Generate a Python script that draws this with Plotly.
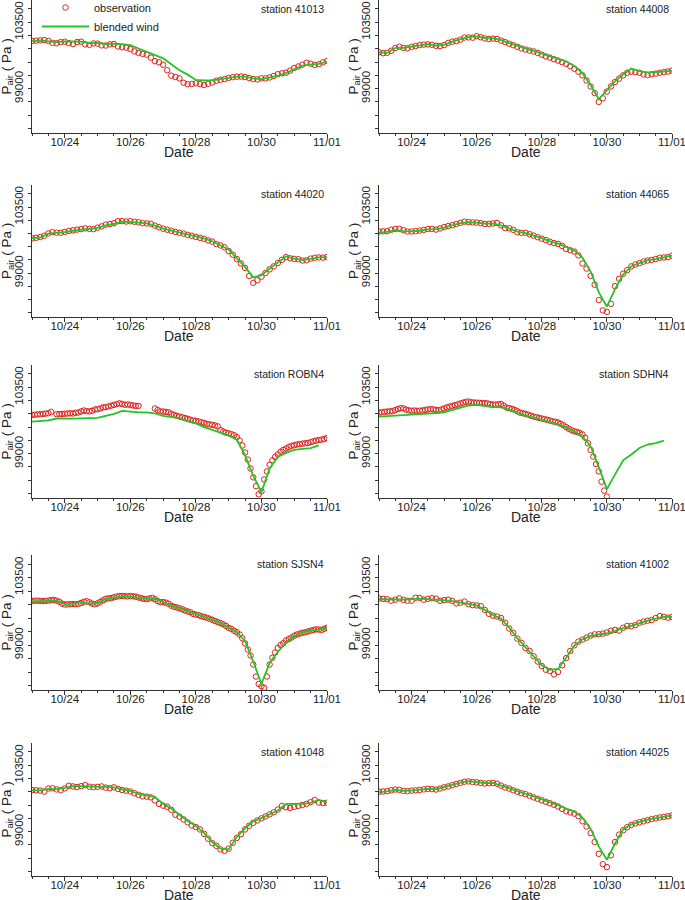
import pandas as pd
import plotly.graph_objects as go

# ---------------- data ----------------
stations = ["41013", "44008", "44020", "44065", "ROBN4",
            "SDHN4", "SJSN4", "41002", "41048", "44025"]

t3h = pd.date_range("2012-10-23 00:00", "2012-11-01 00:00", freq="3h")   # 73
t2h = pd.date_range("2012-10-23 00:00", "2012-11-01 00:00", freq="2h")   # 109
t6h = pd.date_range("2012-10-23 00:00", "2012-11-01 00:00", freq="6h")   # 37

x_tick_vals = ["2012-10-24", "2012-10-26", "2012-10-28", "2012-10-30", "2012-11-01"]
x_tick_text = ["10/24", "10/26", "10/28", "10/30", "11/01"]
y_tick_vals = [99000, 103500]
y_tick_text = ["99000", "103500"]
y_minor_vals = [96300, 97200, 98100, 99900, 100800, 101700, 102600, 104400]

obs_41013 = [102225, 102250, 102270, 102290, 102230, 102100, 102080, 102150, 102180, 102080,
             102020, 102150, 102180, 102000, 101960, 102060, 102050, 101930, 101920, 102000,
             102020, 101850, 101800, 101775, 101680, 101520, 101420, 101350, 101300, 101100,
             100860, 100780, 100620, 100250, 99880, 99790, 99700, 99400, 99300, 99320,
             99360, 99300, 99250, 99330, 99420, 99540, 99600, 99650, 99730, 99780,
             99810, 99820, 99790, 99720, 99650, 99630, 99700, 99700, 99760, 99860,
             99980, 100040, 100080, 100220, 100400, 100500, 100620, 100750, 100690, 100610,
             100650, 100780, 100870]
mod_41013 = [102220, 102260, 102200, 102150, 102200, 102180, 102180, 102080, 102100, 102020,
             102050, 102020, 101950, 101720, 101500, 101300, 101050, 100650, 100250, 99950,
             99590, 99560, 99560, 99640, 99750, 99810, 99810, 99700, 99650, 99740,
             99860, 100050, 100280, 100560, 100620, 100680, 100820]

obs_44008 = [101460, 101400, 101430, 101560, 101750, 101840, 101760, 101730, 101820, 101880,
             101950, 101980, 102000, 101970, 101900, 101880, 101950, 102100, 102180, 102220,
             102320, 102460, 102470, 102450, 102550, 102480, 102400, 102360, 102390, 102360,
             102250, 102150, 102040, 101940, 101830, 101720, 101650, 101580, 101520, 101420,
             101300, 101180, 101100, 100990, 100900, 100790, 100680, 100520, 100350, 100150,
             99900, 99550, 99150, 98700, 98100, 98350, 98800, 99150, 99450, 99680,
             99900, 100080, 100150, 100120, 100080, 99960, 99920, 99980, 100020, 100080,
             100120, 100160, 100220]
mod_44008 = [101460, 101420, 101760, 101770, 101850, 101960, 102020, 101920, 101960, 102180,
             102330, 102500, 102540, 102430, 102420, 102280, 102080, 101880, 101720, 101560,
             101380, 101200, 101000, 100840, 100530, 100050, 99250, 98280, 98900, 99500,
             99960, 100370, 100180, 100100, 100120, 100170, 100200]

obs_44020 = [101360, 101400, 101450, 101540, 101700, 101790, 101750, 101740, 101800, 101870,
             101910, 101960, 101990, 102040, 102010, 101990, 102090, 102180, 102300, 102340,
             102390, 102530, 102540, 102510, 102530, 102490, 102460, 102400, 102380, 102360,
             102230, 102120, 102020, 101950, 101880, 101800, 101740, 101690, 101600, 101540,
             101460, 101400, 101330, 101220, 101140, 100970, 100880, 100750, 100500, 100250,
             99950, 99650, 99350, 98800, 98330, 98500, 98750, 99000, 99250, 99450,
             99680, 99900, 100080, 100000, 99960, 99940, 99850, 99870, 99980, 100040,
             100060, 100050, 100080]
mod_44020 = [101380, 101420, 101680, 101720, 101790, 101880, 101960, 102000, 102070, 102250,
             102340, 102500, 102490, 102440, 102380, 102230, 102020, 101880, 101780, 101620,
             101480, 101360, 101160, 100900, 100600, 100000, 99420, 98700, 98850, 99300,
             99700, 100130, 99980, 99900, 99970, 100060, 100080]

obs_44065 = [101830, 101840, 101850, 101950, 102000, 102010, 101920, 101830, 101830, 101850,
             101890, 101940, 102000, 102010, 101960, 102040, 102130, 102200, 102260, 102340,
             102420, 102500, 102470, 102450, 102440, 102400, 102340, 102350, 102380, 102410,
             102250, 102060, 102050, 101940, 101780, 101740, 101740, 101650, 101550, 101440,
             101340, 101240, 101130, 101040, 100980, 100850, 100640, 100550, 100460, 100200,
             99650, 99300, 98800, 98200, 97150, 96450, 96350, 96900, 98100, 98600,
             98950, 99200, 99450, 99580, 99670, 99780, 99850, 99890, 99950, 100040,
             100060, 100080, 100180]
mod_44065 = [101740, 101800, 101920, 101850, 101840, 101880, 101980, 101990, 102100, 102260,
             102400, 102460, 102440, 102360, 102370, 102250, 102060, 101820, 101720, 101560,
             101380, 101160, 101000, 100780, 100540, 100050, 99100, 97700, 96700, 97900,
             98900, 99460, 99680, 99880, 99950, 100080, 100180]

obs_ROBN4 = [101625, 101640, 101660, 101670, 101690, 101710, 101740, 101830, None, 101670, 101680, 101690,
             101700, 101720, 101730, 101720, 101760, 101790, 101860, 101920, 101880, 101860, 101900, 101990,
             102010, 102060, 102130, 102150, 102200, 102250, 102300, 102350, 102410, 102360, 102310, 102330,
             102300, 102260, 102230, 102230, None, None, None, None, None, 102060, 101950, 101860,
             101850, 101830, 101800, 101690, 101620, 101560, 101510, 101460, 101410, 101360, 101300, 101250,
             101220, 101180, 101130, 101080, 101020, 100980, 100950, 100910, 100850, 100600, 100500, 100420,
             100380, 100320, 100250, 100120, 99900, 99550, 99080, 98600, 98000, 97400, 96800, 96250,
             96450, 97250, 97800, 98250, 98550, 98780, 98950, 99130, 99250, 99350, 99450, 99530,
             99570, 99620, 99650, 99680, 99700, 99720, 99780, 99830, 99880, 99920, 99950, 99990,
             100050]
mod_ROBN4 = [101175, 101200, 101250, 101380, 101360, 101370, 101390, 101400, 101420, 101560,
             101700, 101900, 101830, 101800, 101790, 101720, 101560, 101500, 101400, 101200,
             101050, 100800, 100600, 100450, 100240, 99950, 98900, 97500, 96400, 98000,
             98800, 99050, 99250, 99320, 99380, 99560]

obs_SDHN4 = [101780, 101800, 101830, 101850, 101860, 101880, 101950, 102020, 102080, 102060, 101980, 101930,
             101900, 101920, 101900, 101910, 101920, 101960, 101990, 102010, 102000, 101960, 101940, 101990,
             102060, 102130, 102180, 102230, 102280, 102330, 102400, 102450, 102510, 102520, 102480, 102460,
             102450, 102440, 102430, 102420, 102400, 102350, 102330, 102310, 102340, 102360, 102250, 102120,
             102080, 102030, 101960, 101880, 101780, 101740, 101690, 101640, 101570, 101510, 101470, 101420,
             101380, 101340, 101290, 101240, 101190, 101150, 101110, 101020, 100920, 100800, 100680, 100580,
             100510, 100470, 100400, 100300, 100080, 99700, 99250, 98800, 98300, 97800, 97100, 96500,
             96100]
mod_SDHN4 = [101510, 101540, 101560, 101600, 101640, 101670, 101700, 101740, 101800, 101950,
             102120, 102260, 102300, 102200, 102150, 102130, 101980, 101750, 101580, 101440,
             101280, 101150, 101000, 100760, 100500, 100150, 99500, 98100, 96600, 97600,
             98550, 98950, 99380, 99620, 99710, 99880]

obs_SJSN4 = [101930, 101950, 101960, 101940, 101930, 101940, 101960, 101990, 102000, 101960, 101880, 101760,
             101700, 101710, 101720, 101730, 101720, 101740, 101800, 101880, 101920, 101850, 101760, 101710,
             101780, 101880, 101980, 102080, 102110, 102130, 102180, 102230, 102260, 102270, 102250, 102240,
             102260, 102250, 102220, 102170, 102120, 102080, 102060, 102100, 102150, 102050, 101930, 101850,
             101860, 101830, 101750, 101620, 101550, 101500, 101450, 101380, 101300, 101240, 101180, 101070,
             101030, 100990, 100920, 100870, 100820, 100750, 100680, 100600, 100530, 100460, 100380, 100270,
             100140, 100070, 99950, 99850, 99700, 99450, 99100, 98700, 98300, 97700, 96900, 96400,
             96250, 96150, 96900, 97700, 98150, 98500, 98800, 99000, 99120, 99300, 99400, 99500,
             99620, 99700, 99760, 99810, 99850, 99900, 99950, 100000, 100040, 100030, 100000, 100080,
             100150]
mod_SJSN4 = [101900, 101920, 101940, 101950, 101720, 101740, 101860, 101740, 101800, 102080,
             102160, 102240, 102230, 102150, 102080, 102100, 101870, 101620, 101460, 101250,
             101040, 100880, 100700, 100460, 100150, 99870, 99250, 97900, 96400, 97800,
             98550, 99150, 99600, 99830, 99980, 100020, 100150]

obs_41002 = [102100, 102080, 102050, 101950, 102020, 102110, 102010, 101950, 101950, 102150,
             102140, 102020, 102080, 102120, 102090, 101950, 101990, 102020, 101940, 101770,
             101820, 101900, 101720, 101660, 101640, 101590, 101340, 101080, 100960, 100900,
             100800, 100480, 100100, 99800, 99430, 99140, 98800, 98600, 98250, 97900,
             97600, 97350, 97260, 97040, 97200, 97650, 98130, 98600, 98980, 99230,
             99360, 99490, 99630, 99710, 99720, 99760, 99830, 99950, 100010, 99960,
             100150, 100270, 100260, 100320, 100480, 100560, 100620, 100660, 100800, 100930,
             100880, 100820, 100870]
mod_41002 = [102050, 102030, 102040, 102020, 102060, 102090, 102060, 102040, 101980, 101920,
             101840, 101760, 101640, 101340, 101000, 100760, 100150, 99450, 98850, 98250,
             97650, 97350, 97400, 98150, 98960, 99380, 99600, 99700, 99780, 99920,
             100130, 100270, 100460, 100620, 100760, 100880, 100870]

obs_41048 = [101820, 101800, 101780, 101710, 101920, 101940, 101860, 101800, 101930, 102110,
             102060, 102020, 102080, 102150, 102040, 102010, 102030, 102060, 101980, 101940,
             102000, 101890, 101820, 101770, 101720, 101600, 101490, 101390, 101370, 101320,
             101110, 100880, 100760, 100690, 100480, 100140, 100010, 99830, 99630, 99420,
             99310, 99150, 98850, 98520, 98220, 98040, 97800, 97700, 97850, 98250,
             98580, 98830, 99150, 99400, 99600, 99760, 99900, 100030, 100170, 100310,
             100500, 100740, 100650, 100600, 100680, 100740, 100810, 100880, 101000, 101140,
             100970, 100940, 100960]
mod_41048 = [101800, 101800, 101900, 101880, 101960, 102080, 102080, 102060, 102020, 102030,
             102000, 101870, 101760, 101550, 101440, 101350, 100880, 100560, 100150, 99720,
             99380, 98900, 98300, 97850, 97800, 98650, 99230, 99700, 99920, 100150,
             100430, 100880, 100860, 100880, 100950, 101150, 100980]

obs_44025 = [101700, 101720, 101740, 101800, 101850, 101830, 101760, 101740, 101780, 101800,
             101820, 101860, 101900, 101880, 101850, 101920, 102000, 102060, 102150, 102230,
             102300, 102380, 102400, 102360, 102340, 102300, 102260, 102280, 102300, 102250,
             102120, 101990, 101920, 101800, 101700, 101600, 101540, 101430, 101320, 101220,
             101120, 101020, 100920, 100820, 100700, 100540, 100380, 100300, 100220, 100050,
             99700, 99350, 98900, 98300, 97500, 96800, 96600, 97400, 98300, 98800,
             99100, 99300, 99450, 99560, 99640, 99700, 99780, 99850, 99900, 99960,
             100000, 100040, 100100]
mod_44025 = [101680, 101720, 101820, 101760, 101790, 101830, 101900, 101880, 102000, 102160,
             102320, 102420, 102360, 102280, 102300, 102150, 101950, 101740, 101580, 101380,
             101180, 101000, 100800, 100560, 100360, 99950, 99200, 98000, 97100, 98200,
             99150, 99500, 99680, 99820, 99920, 100020, 100100]

series = {
    "41013": (t3h, obs_41013, t6h, mod_41013),
    "44008": (t3h, obs_44008, t6h, mod_44008),
    "44020": (t3h, obs_44020, t6h, mod_44020),
    "44065": (t3h, obs_44065, t6h, mod_44065),
    "ROBN4": (t2h, obs_ROBN4, t6h[:len(mod_ROBN4)], mod_ROBN4),
    "SDHN4": (t2h[:len(obs_SDHN4)], obs_SDHN4, t6h[:len(mod_SDHN4)], mod_SDHN4),
    "SJSN4": (t2h, obs_SJSN4, t6h, mod_SJSN4),
    "41002": (t3h, obs_41002, t6h, mod_41002),
    "41048": (t3h, obs_41048, t6h, mod_41048),
    "44025": (t3h, obs_44025, t6h, mod_44025),
}

# ---------------- layout ----------------
# figure is a little wider than the 685px window so the last tick label
# of the right column is drawn and simply clipped by the window edge
W, H = 705, 900
col_px = [(32, 327), (379, 672)]
row_px = [(0, 133), (185, 317), (365, 498), (555, 690), (743, 876)]
ytitle_x_px = [7, 354]

OBS_COLOR = "#e0201c"
MOD_COLOR = "#22c522"
TXT = "#222"
FONT = "Liberation Sans, Arial, sans-serif"

fig = go.Figure()
layout = dict(
    width=W, height=H, margin=dict(l=0, r=0, t=0, b=0, autoexpand=False),
    paper_bgcolor="white", plot_bgcolor="white",
    font=dict(family=FONT, color=TXT, size=11),
    showlegend=True,
    legend=dict(x=37 / W, y=1.0 + 7 / H, xanchor="left", yanchor="top",
                bgcolor="rgba(0,0,0,0)", font=dict(size=11, color=TXT),
                itemwidth=47, tracegroupgap=0),
)
annotations = []

for k, st in enumerate(stations):
    r, c = divmod(k, 2)
    idx = "" if k == 0 else str(k + 1)
    xa, ya = "x" + idx, "y" + idx
    x0, x1 = col_px[c]
    y0, y1 = row_px[r]
    tobs, vobs, tmod, vmod = series[st]
    fig.add_trace(go.Scatter(
        x=tobs, y=vobs, mode="markers", name="observation",
        marker=dict(symbol="circle-open", size=5.5, color=OBS_COLOR,
                    line=dict(width=1, color=OBS_COLOR)),
        xaxis=xa, yaxis=ya, showlegend=(k == 0)))
    fig.add_trace(go.Scatter(
        x=tmod, y=vmod, mode="lines", name="blended wind",
        line=dict(color=MOD_COLOR, width=1.8),
        xaxis=xa, yaxis=ya, showlegend=(k == 0)))
    layout["xaxis" + idx] = dict(
        domain=[x0 / W, x1 / W], anchor=ya, type="date", automargin=False,
        range=["2012-10-23 00:00", "2012-11-01 00:00"],
        tickmode="array", tickvals=x_tick_vals, ticktext=x_tick_text,
        ticks="outside", ticklen=4, tickwidth=1, tickcolor="#333",
        minor=dict(dtick=43200000, tick0="2012-10-23", ticks="outside",
                   ticklen=2, tickcolor="#333"),
        showline=True, linecolor="#333", linewidth=1, mirror=False,
        showgrid=False, zeroline=False, ticklabelstandoff=-6,
        tickfont=dict(size=11.5, color=TXT),
    )
    layout["yaxis" + idx] = dict(
        domain=[1 - y1 / H, 1 - y0 / H], anchor=xa, automargin=False,
        range=[96000, 105000],
        tickmode="array", tickvals=y_tick_vals, ticktext=y_tick_text,
        tickangle=-90,
        ticks="outside", ticklen=3, tickwidth=1, tickcolor="#333",
        minor=dict(tickmode="array", tickvals=y_minor_vals, ticks="outside",
                   ticklen=3, tickcolor="#333"),
        showline=True, linecolor="#333", linewidth=1, mirror=False,
        showgrid=False, zeroline=False,
        tickfont=dict(size=11.5, color=TXT),
    )
    annotations.append(dict(
        text="station " + st, xref=xa + " domain", yref=ya + " domain",
        x=0.995, y=0.99, xanchor="right", yanchor="top", showarrow=False,
        font=dict(size=10.5, color=TXT)))
    # axis titles
    annotations.append(dict(
        text="Date", xref="paper", yref="paper",
        x=((x0 + x1) / 2) / W, y=1 - (y1 + 19) / H, xanchor="center", yanchor="middle",
        showarrow=False, font=dict(size=14, color=TXT)))
    annotations.append(dict(
        text="P<sub>air</sub> ( Pa )", xref="paper", yref="paper", textangle=-90,
        x=ytitle_x_px[c] / W, y=1 - ((y0 + y1) / 2) / H, xanchor="center", yanchor="middle",
        showarrow=False, font=dict(size=13.5, color=TXT)))

layout["annotations"] = annotations
fig.update_layout(**layout)
fig.write_html(
    "out.html",
    config={"displayModeBar": False},
    post_script="document.body.style.margin='0';document.body.style.overflow='hidden';",
)
